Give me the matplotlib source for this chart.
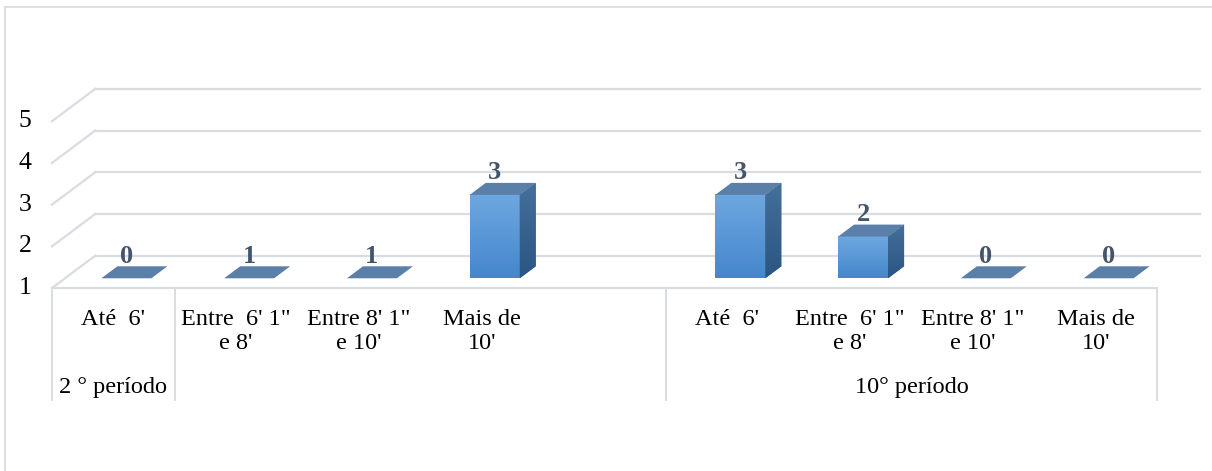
import matplotlib
matplotlib.use('Agg')
import matplotlib.pyplot as plt
import numpy as np
from matplotlib.patches import Polygon
from matplotlib.lines import Line2D

# Dados
categorias = ["Até  6'", "Entre  6' 1\"\ne 8'", "Entre 8' 1\"\ne 10'", "Mais de\n10'", "",
              "Até  6'", "Entre  6' 1\"\ne 8'", "Entre 8' 1\"\ne 10'", "Mais de\n10'"]
valores = [0, 1, 1, 3, None, 3, 2, 0, 0]
grupos = ["2 ° período", "", "10° período"]
grupo_inicio = [0, 1, 5]
grupo_fim = [0, 4, 8]
y_ticks = [1, 2, 3, 4, 5]
y_min = 1

plt.rcParams['font.family'] = ['Liberation Serif', 'DejaVu Serif']

W, H = 12.12, 4.71
fig = plt.figure(figsize=(W, H), dpi=100)
ax = fig.add_axes([0, 0, 1, 1])
ax.axis('off')

# escala: px por categoria / por unidade
px_x = 1105 / 9
px_y = 41.7
x_front0 = 52       # borda esquerda frontal (px)
y_front1 = 288      # nível 1 frontal (px a partir do topo)
xlim = (-0.5 - x_front0 / px_x, 8.5 + (1212 - 1157) / px_x)
ylim = (1 - (471 - y_front1) / px_y, 1 + y_front1 / px_y)

DX = 43.3 / px_x    # profundidade em unidades
DY = 32.4 / px_y
grid_c = '#d9dce3'

# grade 3D
for v in y_ticks:
    ax.plot([-0.5, -0.5 + DX], [v, v + DY], color=grid_c, lw=1.6, zorder=1)
    ax.plot([-0.5 + DX, 8.5 + DX], [v + DY, v + DY], color=grid_c, lw=1.6, zorder=1)
    ax.text(-0.5 - 27 / px_x, v, str(v), ha='center', va='center', fontsize=18.5, color='#000000')

# eixo de categorias (tabela)
ax.plot([-0.5, 8.5], [1, 1], color=grid_c, lw=1.6, zorder=1)
y_fundo = 1 - (400 - y_front1) / px_y
for b in [-0.5, 0.5, 4.5, 8.5]:
    ax.plot([b, b], [1, y_fundo], color=grid_c, lw=1.4, zorder=1)

y_cat = 1 - (309 - y_front1) / px_y
for i, c in enumerate(categorias):
    if c:
        ax.text(i, y_cat, c, ha='center', va='top', fontsize=17.5, linespacing=1.2)
y_grp = 1 - (387 - y_front1) / px_y
for g, a, b in zip(grupos, grupo_inicio, grupo_fim):
    if g:
        ax.text((a + b) / 2, y_grp, g, ha='center', va='center', fontsize=17.5)

# barras 3D
d0, d1 = 0.3, 0.67
w = 50 / px_x
top_c = '#5a7fa9'
cmap_f = matplotlib.colors.LinearSegmentedColormap.from_list('f', ['#4487cc', '#6ea7df'])
cmap_s = matplotlib.colors.LinearSegmentedColormap.from_list('s', ['#2b5582', '#44709c'])
for i, v in enumerate(valores):
    if v is None:
        continue
    h = max(v, y_min)
    x0 = i + d0 * DX - w / 2
    x1 = x0 + w
    yb = y_min + d0 * DY
    yt = h + d0 * DY
    ox = (d1 - d0) * DX
    oy = (d1 - d0) * DY
    if h > y_min:
        # face frontal com gradiente
        grad = np.linspace(0, 1, 100).reshape(-1, 1)
        ax.imshow(grad, extent=[x0, x1, yb, yt], origin='lower', cmap=cmap_f,
                  aspect='auto', zorder=3, interpolation='bilinear')
        # face lateral
        side = Polygon([[x1, yb], [x1 + ox, yb + oy], [x1 + ox, yt + oy], [x1, yt]], closed=True,
                       facecolor='#345f8c', edgecolor='none', zorder=3)
        ax.add_patch(side)
        im = ax.imshow(grad, extent=[x1, x1 + ox, yb, yt + oy], origin='lower', cmap=cmap_s,
                       aspect='auto', zorder=3, interpolation='bilinear')
        im.set_clip_path(side)
    top = Polygon([[x0, yt], [x1, yt], [x1 + ox, yt + oy], [x0 + ox, yt + oy]], closed=True,
                  facecolor=top_c, edgecolor='none', zorder=4)
    ax.add_patch(top)
    ax.annotate(str(v), (i + d0 * DX, yt), xytext=(0, 16), textcoords='offset points',
                ha='center', va='center', fontsize=19, fontweight='bold', color='#44546a', zorder=5)

ax.set_xlim(*xlim)
ax.set_ylim(*ylim)

# moldura do gráfico
fig.add_artist(Line2D([5 / 1212, 5 / 1212], [0, 1 - 7 / 471], color='#d9d9d9', lw=1.2))
fig.add_artist(Line2D([5 / 1212, 1], [1 - 7 / 471, 1 - 7 / 471], color='#d9d9d9', lw=1.2))

fig.savefig('out.png', dpi=100)
